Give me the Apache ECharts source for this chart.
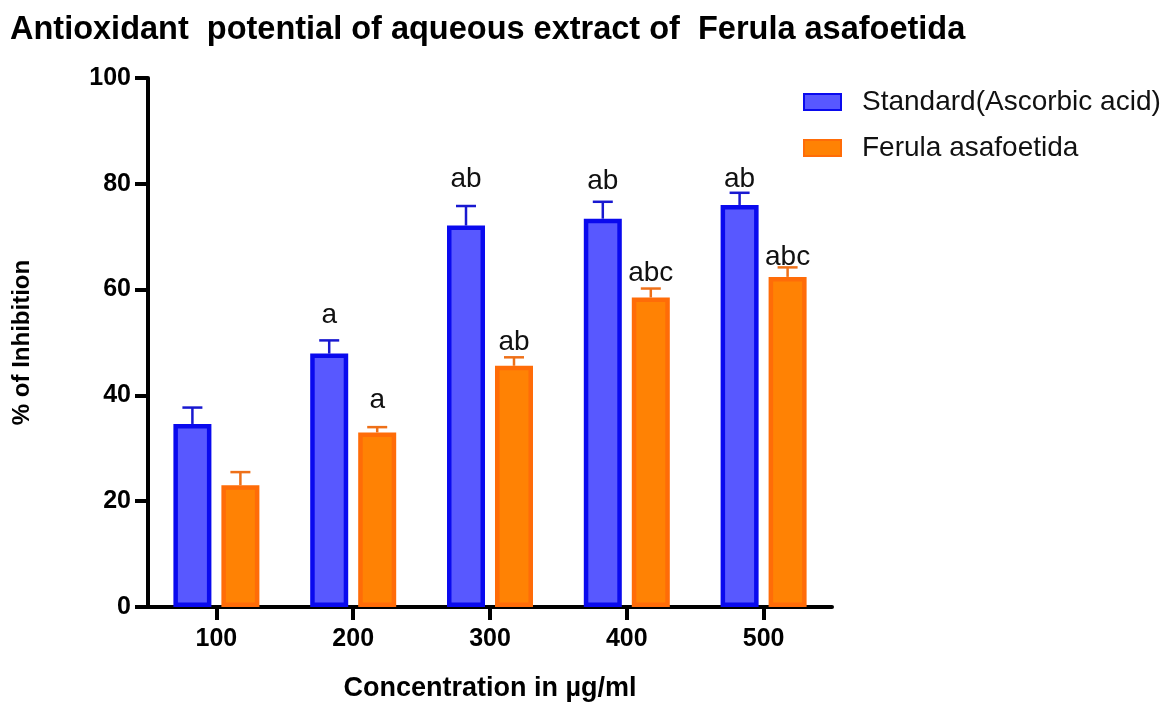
<!DOCTYPE html>
<html>
<head>
<meta charset="utf-8">
<script src="https://cdn.jsdelivr.net/npm/echarts@6/dist/echarts.min.js"></script>
<style>
html,body{margin:0;padding:0;background:#fff;}
#chart{width:1176px;height:704px;}
</style>
</head>
<body>
<div id="chart"></div>
<script>
const categories = ['100', '200', '300', '400', '500'];
const standardMean = [34.6, 47.9, 72.1, 73.4, 76.0];
const standardErr = [3.1, 2.5, 3.7, 3.2, 2.3];
const standardLetters = ['', 'a', 'ab', 'ab', 'ab'];
const ferulaMean = [23.0, 33.0, 45.6, 58.5, 62.4];
const ferulaErr = [2.5, 1.0, 1.6, 1.7, 1.8];
const ferulaLetters = ['', 'a', 'ab', 'abc', 'abc'];
const yTicks = [0, 20, 40, 60, 80, 100];

// style settings
const FONT = "'Liberation Sans', Arial, sans-serif";
const BAR_W = 38, BAR_BORDER = 4.5, GAP_PX = 10;
const standardLabelLift = [0, 25, 27, 21, 14];
const ferulaLabelLift = [0, 27, 15, 15, 10];

function errSeries(means, errs, letters, lifts, side, color) {
  return {
    type: 'custom',
    z: 5,
    silent: true,
    data: categories.map((c, i) => [i, means[i], means[i] + errs[i]]),
    renderItem: function (params, api) {
      const i = api.value(0);
      const base = api.coord([i, api.value(1)]);
      const top = api.coord([i, api.value(2)]);
      const x = base[0] + side * (BAR_W + GAP_PX) / 2;
      const children = [
        { type: 'line', shape: { x1: x, y1: base[1], x2: x, y2: top[1] }, style: { stroke: color, lineWidth: 2.5 } },
        { type: 'line', shape: { x1: x - 10, y1: top[1], x2: x + 10, y2: top[1] }, style: { stroke: color, lineWidth: 2.5 } }
      ];
      if (letters[i]) {
        children.push({
          type: 'text',
          style: {
            x: x, y: top[1] - lifts[i], text: letters[i],
            align: 'center', verticalAlign: 'middle',
            fill: '#111', font: '28px ' + FONT
          }
        });
      }
      return { type: 'group', children: children };
    }
  };
}

const chart = echarts.init(document.getElementById('chart'), null, { renderer: 'canvas' });
chart.setOption({
  animation: false,
  backgroundColor: '#ffffff',
  textStyle: { fontFamily: FONT },
  title: {
    text: 'Antioxidant  potential of aqueous extract of  Ferula asafoetida',
    left: 10, top: 14, padding: 0,
    textStyle: { fontFamily: FONT, fontSize: 32.5, fontWeight: 'bold', color: '#000' }
  },
  legend: {
    orient: 'vertical',
    left: 798, top: 82,
    itemWidth: 37, itemHeight: 16, itemGap: 16,
    icon: 'rect',
    data: ['Standard(Ascorbic acid)', 'Ferula asafoetida'],
    textStyle: { fontFamily: FONT, fontSize: 28, color: '#111', padding: [0, 0, 0, 16], lineHeight: 30 }
  },
  grid: { left: 148, right: 344, top: 78, bottom: 97, containLabel: false, outerBoundsMode: 'none' },
  xAxis: {
    type: 'category',
    data: categories,
    name: 'Concentration in µg/ml',
    nameLocation: 'middle',
    nameGap: 68,
    nameTextStyle: { fontFamily: FONT, fontSize: 27, fontWeight: 'bold', color: '#000', verticalAlign: 'top' },
    axisLine: { show: true, lineStyle: { color: '#000', width: 4 } },
    axisTick: { show: true, alignWithLabel: true, length: 13, lineStyle: { color: '#000', width: 4 } },
    axisLabel: { fontFamily: FONT, fontSize: 25, fontWeight: 'bold', color: '#000', margin: 20 },
    splitLine: { show: false }
  },
  yAxis: {
    type: 'value',
    min: 0, max: 100, interval: 20,
    name: '% of Inhibition',
    nameLocation: 'middle',
    nameGap: 114,
    nameRotate: 90,
    nameTextStyle: { fontFamily: FONT, fontSize: 24, fontWeight: 'bold', color: '#000' },
    axisLine: { show: true, lineStyle: { color: '#000', width: 4 } },
    axisTick: { show: true, length: 13, lineStyle: { color: '#000', width: 4 } },
    axisLabel: {
      fontFamily: FONT, fontSize: 25, fontWeight: 'bold', color: '#000', margin: 17,
      formatter: v => yTicks.includes(v) ? String(v) : ''
    },
    splitLine: { show: false }
  },
  series: [
    {
      name: 'Standard(Ascorbic acid)',
      type: 'bar',
      data: standardMean,
      barWidth: BAR_W,
      barGap: (GAP_PX / BAR_W * 100).toFixed(1) + '%',
      itemStyle: { color: '#5858ff', borderColor: '#0a0aee', borderWidth: BAR_BORDER }
    },
    {
      name: 'Ferula asafoetida',
      type: 'bar',
      data: ferulaMean,
      barWidth: BAR_W,
      itemStyle: { color: '#ff8204', borderColor: '#ff6c08', borderWidth: BAR_BORDER }
    },
    errSeries(standardMean, standardErr, standardLetters, standardLabelLift, -1, '#1818d0'),
    errSeries(ferulaMean, ferulaErr, ferulaLetters, ferulaLabelLift, 1, '#ee7018')
  ]
});
</script>
</body>
</html>
